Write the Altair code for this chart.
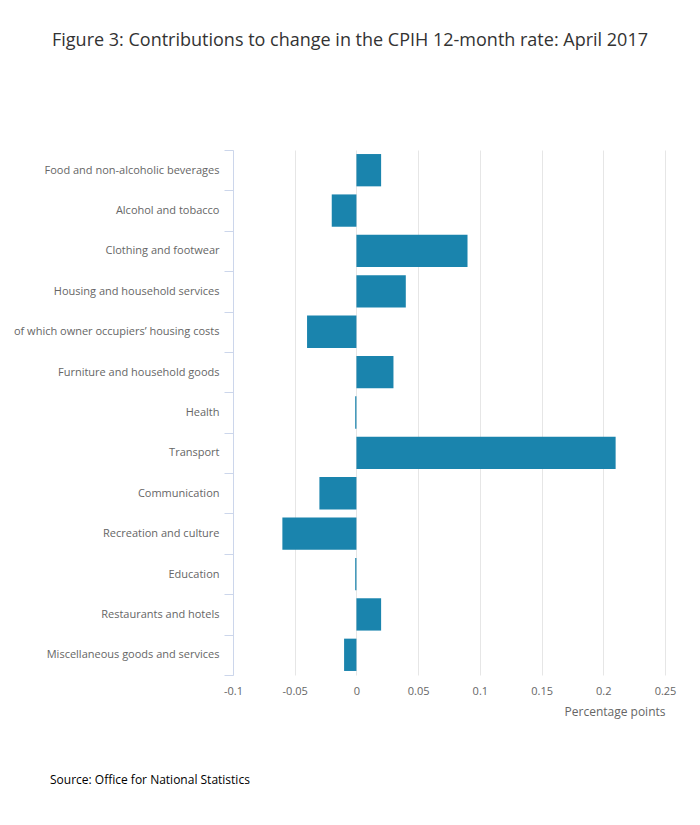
import altair as alt
import pandas as pd

categories = [
    "Food and non-alcoholic beverages",
    "Alcohol and tobacco",
    "Clothing and footwear",
    "Housing and household services",
    "of which owner occupiers\u2019 housing costs",
    "Furniture and household goods",
    "Health",
    "Transport",
    "Communication",
    "Recreation and culture",
    "Education",
    "Restaurants and hotels",
    "Miscellaneous goods and services",
]
values = [0.02, -0.02, 0.09, 0.04, -0.04, 0.03, -0.001, 0.21, -0.03, -0.06, -0.001, 0.02, -0.01]
x_ticks = [-0.1, -0.05, 0, 0.05, 0.1, 0.15, 0.2, 0.25]

df = pd.DataFrame({"category": categories, "value": values})
FONT = "Open Sans"

bars = alt.Chart(df).mark_bar(color="#1a84ad", height={"band": 0.8}).encode(
    x=alt.X(
        "value:Q",
        scale=alt.Scale(domain=[-0.1, 0.25], nice=False, zero=False),
        axis=alt.Axis(
            values=x_ticks,
            labelExpr="'' + datum.value",
            labelFlush=False,
            title="Percentage points",
            titleAnchor="end",
            titleAlign="right",
            titleFontWeight="normal",
            titleFontSize=12,
            titleColor="#666666",
            titlePadding=10,
            labelColor="#666666",
            labelFontSize=11,
            labelPadding=10,
            grid=True,
            gridColor="#e6e6e6",
            domain=False,
            ticks=False,
        ),
    ),
    y=alt.Y(
        "category:N",
        sort=None,
        scale=alt.Scale(paddingInner=0, paddingOuter=0),
        axis=alt.Axis(
            title=None,
            labelColor="#666666",
            labelFontSize=11,
            labelPadding=5,
            labelLimit=300,
            tickBand="extent",
            tickSize=9,
            tickColor="#ccd6eb",
            domainColor="#ccd6eb",
            grid=False,
        ),
    ),
)

source_df = pd.DataFrame({"t": ["Source: Office for National Statistics"]})
source = alt.Chart(source_df).mark_text(
    align="left", baseline="middle", fontSize=12, color="#000000", font=FONT
).encode(text="t:N", x=alt.value(-183), y=alt.value(630))

chart = alt.layer(bars, source).properties(
    width=432,
    height=525,
    autosize=alt.AutoSizeParams(type="none"),
    padding={"left": 225, "top": 142, "right": 27, "bottom": 130},
    title=alt.TitleParams(
        "Figure 3: Contributions to change in the CPIH 12-month rate: April 2017",
        anchor="middle",
        frame="group",
        dx=-99,
        offset=94,
        fontSize=18,
        fontWeight="normal",
        color="#333333",
        font=FONT,
    ),
).configure(font=FONT).configure_view(stroke=None)

chart.save("out.html", embed_options={"renderer": "svg", "actions": False})
